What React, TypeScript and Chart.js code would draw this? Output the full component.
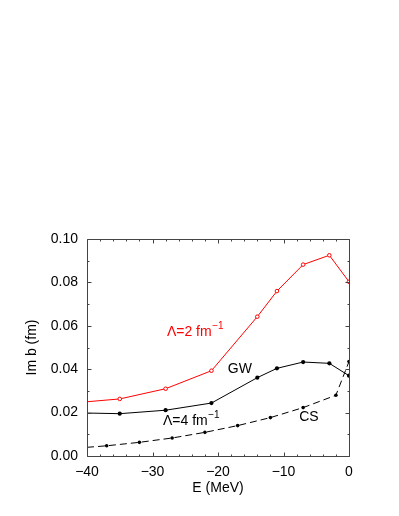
import React, { useEffect, useRef } from 'react';
import { Chart, registerables } from 'chart.js';

Chart.register(...registerables);

// Λ = 2 fm^-1 (red, open circles)
const redE = [-40, -35, -28, -21, -14, -11, -7, -3, 0];
const redIm = [0.025, 0.0263, 0.031, 0.0393, 0.0642, 0.076, 0.0882, 0.0925, 0.0803];
// GW, Λ = 4 fm^-1 (solid black, filled dots)
const gwE = [-40, -35, -28, -21, -14, -11, -7, -3, 0];
const gwIm = [0.0198, 0.0195, 0.0211, 0.0244, 0.0361, 0.0404, 0.0433, 0.0427, 0.037];
// CS (dashed black, small dots)
const csE = [-40, -37, -32, -27, -22, -17, -12, -7, -2, 0];
const csIm = [0.004, 0.0047, 0.0063, 0.0083, 0.0109, 0.014, 0.0177, 0.0223, 0.028, 0.0435];

const xMin = -40;
const xMax = 0;
const xStep = 10;
const xMinorStep = 2;
const yMin = 0;
const yMax = 0.1;
const yStep = 0.02;
const yMinorStep = 0.01;

const xTitle = 'E (MeV)';
const yTitle = 'Im b (fm)';

const noteTexts = ['Λ=2 fm', 'GW', 'Λ=4 fm', 'CS'];
const noteSups = ['−1', '', '−1', ''];
const noteX = [-27.8, -18.5, -28.4, -7.6];
const noteY = [0.057, 0.0401, 0.0161, 0.0177];
const noteColors = ['#ff0000', '#000000', '#000000', '#000000'];

const FONT = '"Liberation Sans", Arial, Helvetica, sans-serif';

const toXY = (xs: number[], ys: number[]) => xs.map((x, i) => ({ x, y: ys[i] }));

const framePlugin = {
  id: 'frameTicks',
  afterDatasetsDraw(chart: any) {
    const { ctx, chartArea } = chart;
    const xs = chart.scales.x;
    const ys = chart.scales.y;
    const { left, right, top, bottom } = chartArea;
    ctx.save();
    ctx.strokeStyle = '#444';
    ctx.lineWidth = 1;
    ctx.beginPath();
    const L = Math.round(left) + 0.5;
    const R = Math.round(right) + 0.5;
    const T = Math.round(top) + 0.5;
    const B = Math.round(bottom) + 0.5;
    ctx.rect(L, T, R - L, B - T);
    // x ticks
    const nx = Math.round((xMax - xMin) / xMinorStep);
    for (let i = 0; i <= nx; i++) {
      const v = xMin + i * xMinorStep;
      const major = Math.abs(v / xStep - Math.round(v / xStep)) < 1e-6;
      const len = major ? 4 : 2;
      const px = Math.round(xs.getPixelForValue(v)) + 0.5;
      ctx.moveTo(px, B);
      ctx.lineTo(px, B - len);
      ctx.moveTo(px, T);
      ctx.lineTo(px, T + len);
    }
    const ny = Math.round((yMax - yMin) / yMinorStep);
    for (let i = 0; i <= ny; i++) {
      const v = yMin + i * yMinorStep;
      const major = Math.abs(v / yStep - Math.round(v / yStep)) < 1e-6;
      const len = major ? 4 : 2;
      const py = Math.round(ys.getPixelForValue(v)) + 0.5;
      ctx.moveTo(L, py);
      ctx.lineTo(L + len, py);
      ctx.moveTo(R, py);
      ctx.lineTo(R - len, py);
    }
    ctx.stroke();

    // annotations
    ctx.textBaseline = 'middle';
    ctx.textAlign = 'left';
    for (let i = 0; i < noteTexts.length; i++) {
      const px = xs.getPixelForValue(noteX[i]);
      const py = ys.getPixelForValue(noteY[i]);
      ctx.fillStyle = noteColors[i];
      ctx.font = `14px ${FONT}`;
      ctx.fillText(noteTexts[i], px, py);
      if (noteSups[i]) {
        const w = ctx.measureText(noteTexts[i]).width;
        ctx.font = `10px ${FONT}`;
        ctx.fillText(noteSups[i], px + w + 0.5, py - 6);
      }
    }
    ctx.restore();
  },
};

export default function App() {
  const ref = useRef<HTMLCanvasElement | null>(null);
  useEffect(() => {
    if (!ref.current) return;
    const chart = new Chart(ref.current, {
      type: 'scatter',
      data: {
        datasets: [
          {
            data: toXY(redE, redIm),
            showLine: true,
            borderColor: '#ff0000',
            borderWidth: 1,
            backgroundColor: '#ffffff',
            pointBorderColor: '#ff0000',
            pointBorderWidth: 1,
            pointRadius: (c: any) => (c.dataIndex === 0 ? 0 : 1.8),
          },
          {
            data: toXY(gwE, gwIm),
            showLine: true,
            borderColor: '#000000',
            borderWidth: 1,
            backgroundColor: '#000000',
            pointBorderColor: '#000000',
            pointBorderWidth: 0,
            pointRadius: (c: any) => (c.dataIndex === 0 ? 0 : 2.1),
          },
          {
            data: toXY(csE, csIm),
            showLine: true,
            borderColor: '#000000',
            borderWidth: 1,
            borderDash: [7, 4],
            backgroundColor: '#000000',
            pointBorderColor: '#000000',
            pointBorderWidth: 0,
            pointRadius: (c: any) => (c.dataIndex === 0 ? 0 : 1.8),
          },
        ],
      },
      options: {
        responsive: false,
        animation: false,
        events: [],
        layout: { padding: { left: 0, right: 50, top: 239, bottom: 0 } },
        plugins: { legend: { display: false }, tooltip: { enabled: false } },
        scales: {
          x: {
            type: 'linear',
            min: xMin,
            max: xMax,
            grid: { display: false, drawTicks: false },
            border: { display: false },
            ticks: {
              stepSize: xStep,
              padding: 8,
              color: '#000',
              font: { family: FONT, size: 14 },
              callback: (v: any) => String(v).replace('-', '−'),
            },
            title: {
              display: true,
              text: xTitle,
              color: '#000',
              font: { family: FONT, size: 14 },
              padding: { top: 0, bottom: 19.5 },
            },
            afterFit: (s: any) => {
              s.height = 60;
            },
          },
          y: {
            type: 'linear',
            min: yMin,
            max: yMax,
            grid: { display: false, drawTicks: false },
            border: { display: false },
            ticks: {
              stepSize: yStep,
              padding: 9,
              color: '#000',
              font: { family: FONT, size: 14 },
              callback: (v: any) => Number(v).toFixed(2),
            },
            title: {
              display: true,
              text: yTitle,
              color: '#000',
              font: { family: FONT, size: 14 },
              padding: { top: 23.5, bottom: 0 },
            },
            afterFit: (s: any) => {
              s.width = 87;
            },
          },
        },
      },
      plugins: [framePlugin],
    });
    return () => chart.destroy();
  }, []);
  return (
    <div style={{ position: 'absolute', left: 0, top: 0, width: 399, height: 516, background: '#fff' }}>
      <canvas ref={ref} width={399} height={516} style={{ width: 399, height: 516, display: 'block' }} />
    </div>
  );
}
